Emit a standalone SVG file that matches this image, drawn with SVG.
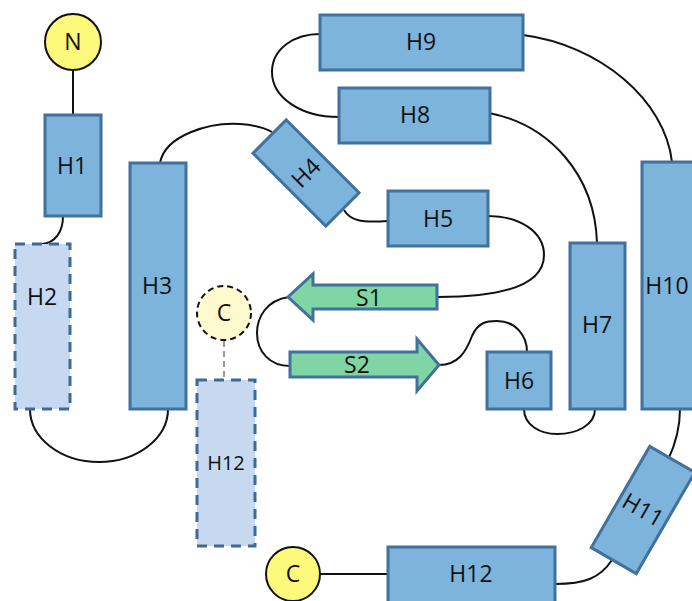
<svg xmlns="http://www.w3.org/2000/svg" width="692" height="601" viewBox="0 0 692 601">
<style>
.h{fill:#7db4dc;stroke:#41719c;stroke-width:3}
.hd{fill:#c6d9f0;stroke:#3e6a94;stroke-width:3;stroke-dasharray:10 7}
.s{fill:#7fd6a4;stroke:#41719c;stroke-width:3;stroke-linejoin:miter}
.t{font-family:"Open Sans","Liberation Sans",sans-serif;font-size:23px;fill:#111;text-anchor:middle}
.ts{font-size:20px}
.c{fill:#fdf97a;stroke:#111;stroke-width:2}
.cd{fill:#fffacd;stroke:#111;stroke-width:2;stroke-dasharray:6 4}
.l{fill:none;stroke:#111;stroke-width:2}
</style>
<rect width="692" height="601" fill="#fff"/>
<g id="connectors">
<path class="l" d="M73,70 L73,115"/>
<path class="l" d="M63,216 C63,232 55,243 42,244"/>
<path class="l" d="M30,409 A69,53 0 0 0 168,409"/>
<path class="l" d="M160,163 C165,135 210,122 240,124 C255,125 265,128 272,132"/>
<path class="l" d="M344,210 C350,220 360,223 387,221"/>
<path class="l" d="M488,216 C520,216 544,232 544,255 C544,283 510,297 438,297"/>
<path class="l" d="M289,297 C266,300 257,318 257,333 C257,352 270,366 290,366"/>
<path class="l" d="M439,365 C458,365 466,352 472,336 C478,322 487,321 497,321 C515,321 527,335 527,352"/>
<path class="l" d="M524,409 C524,425 540,434 557,434 C577,434 595,425 595,409"/>
<path class="l" d="M489,113 C550,125 595,175 597,243"/>
<path class="l" d="M339,117 C300,117 272,97 272,72 C272,48 295,34 320,34"/>
<path class="l" d="M523,35 C600,45 665,100 672,162"/>
<path class="l" d="M680,409 C680,430 675,445 668,460"/>
<path class="l" d="M612,560 C600,578 585,584 555,584"/>
<path class="l" d="M320,574 L388,574"/>
<path d="M224,341 L224,380" fill="none" stroke="#999" stroke-width="2" stroke-dasharray="6 4"/>
</g>
<g id="N"><circle class="c" cx="73" cy="42" r="28"/><text class="t" x="73" y="50">N</text></g>
<g id="H1"><rect class="h" x="45" y="115" width="56" height="101"/><text class="t" x="72" y="174">H1</text></g>
<g id="H2"><rect class="hd" x="15" y="244" width="55" height="165"/><text class="t" x="42" y="305">H2</text></g>
<g id="H3"><rect class="h" x="130" y="163" width="56" height="246"/><text class="t" x="157" y="294">H3</text></g>
<g id="H4" transform="translate(306,173) rotate(-45)"><rect class="h" x="-23.5" y="-51.5" width="47" height="103"/><text class="t" x="0" y="8">H4</text></g>
<g id="H5"><rect class="h" x="388" y="191" width="100" height="55"/><text class="t" x="438" y="227">H5</text></g>
<g id="S1"><path class="s" d="M437,285 L313,285 L313,274 L288,297 L313,320 L313,309 L437,309 Z"/><text class="t" x="369" y="306">S1</text></g>
<g id="S2"><path class="s" d="M290,352 L417,352 L417,339 L439,365 L417,391 L417,377 L290,377 Z"/><text class="t" x="357" y="373">S2</text></g>
<g id="H6"><rect class="h" x="487" y="352" width="64" height="57"/><text class="t" x="519" y="389">H6</text></g>
<g id="H7"><rect class="h" x="570" y="243" width="55" height="166"/><text class="t" x="597" y="333">H7</text></g>
<g id="H8"><rect class="h" x="339" y="88" width="151" height="55"/><text class="t" x="415" y="123">H8</text></g>
<g id="H9"><rect class="h" x="320" y="15" width="203" height="55"/><text class="t" x="421" y="50">H9</text></g>
<g id="H10"><rect class="h" x="642" y="162" width="60" height="247"/><text class="t" x="667" y="294" font-size="22">H10</text></g>
<g id="H11" transform="translate(643,510) rotate(30)"><rect class="h" x="-26" y="-58.5" width="52" height="117"/><text class="t" x="0" y="8">H11</text></g>
<g id="H12"><rect class="h" x="388" y="547" width="167" height="60"/><text class="t" x="471" y="582">H12</text></g>
<g id="C"><circle class="c" cx="293" cy="574" r="27"/><text class="t" x="293" y="582">C</text></g>
<g id="C-alt"><circle class="cd" cx="224" cy="313" r="27"/><text class="t" x="224" y="321">C</text></g>
<g id="H12-alt"><rect class="hd" x="197" y="380" width="58" height="166"/><text class="t ts" x="226" y="470">H12</text></g>
</svg>
